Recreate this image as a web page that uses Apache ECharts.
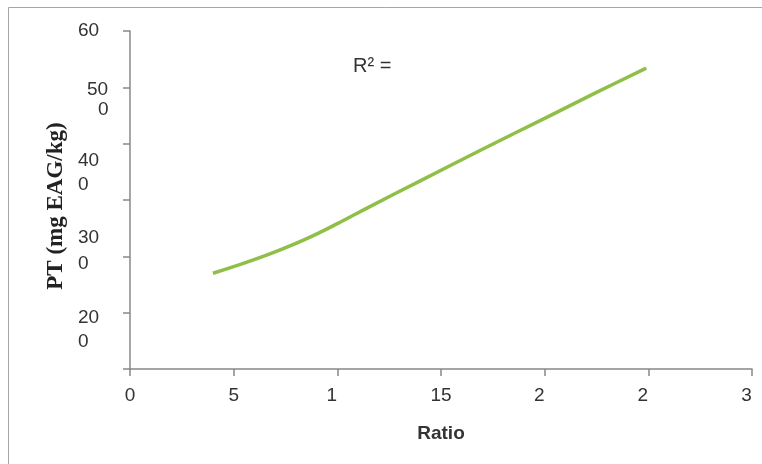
<!DOCTYPE html>
<html>
<head>
<meta charset="utf-8">
<script src="https://cdn.jsdelivr.net/npm/echarts@6/dist/echarts.min.js"></script>
<style>html,body{margin:0;padding:0;background:#fff}#c{width:762px;height:464px}</style>
</head>
<body>
<div id="c"></div>
<script>
// Data
const ratio = [0.40, 0.55, 0.70, 0.85, 1.00, 1.15, 1.40, 1.70, 2.00, 2.25, 2.49];
const pt    = [170, 188, 208, 231, 258, 287, 334, 390, 445, 491, 534];
// Tick labels as shown in the picture
const xTickValues = [0, 0.5, 1, 1.5, 2, 2.5, 3];
const xTickLabels = ['0', '5', '1', '15', '2', '2', '3'];
const yTickValues = [0, 100, 200, 300, 400, 500, 600];
const yTickLabels = ['', '20\n0', '30\n0', '40\n0', '', '50\n0', '60'];
const xTitle = 'Ratio';
const yTitle = 'PT (mg EAG/kg)';
const note = 'R\u00b2 =';

const FONT = '"Liberation Sans", Arial, sans-serif';
const chart = echarts.init(document.getElementById('c'));

function xLabel(v) {
  const i = xTickValues.findIndex(t => Math.abs(t - v) < 1e-9);
  if (i < 0) return '';
  const s = xTickLabels[i];
  return (v >= 1 && s.length === 1) ? '{s|' + s + '}' : '{n|' + s + '}';
}
function yLabel(v) {
  const i = yTickValues.findIndex(t => Math.abs(t - v) < 1e-9);
  if (i < 0) return '';
  const parts = yTickLabels[i].split('\n');
  if (parts.length === 1) return parts[0] ? '{n|' + parts[0] + '}' : '';
  if (v === 500) return '{e24| }\n{p9|' + parts[0] + '}\n{p20|' + parts[1] + '}';
  if (v === 300) return '{l24|' + parts[0] + '}\n{l24|' + parts[1] + '}\n{e54| }';
  if (v === 200) return '{l26|' + parts[0] + '}\n{l26|' + parts[1] + '}\n{e12| }';
  if (v === 100) return '{e34| }\n{l24|' + parts[0] + '}\n{l24|' + parts[1] + '}';
  return parts.join('\n');
}
const base = {fontFamily: FONT, fontSize: 19, color: '#333'};
const yRich = {
  n: Object.assign({}, base, {lineHeight: 20}),
  e24: {lineHeight: 24, fontSize: 4},
  e54: {lineHeight: 54, fontSize: 4},
  e12: {lineHeight: 12, fontSize: 4},
  e34: {lineHeight: 34, fontSize: 4},
  p9: Object.assign({}, base, {lineHeight: 20, padding: [0, 0, 0, 9]}),
  p20: Object.assign({}, base, {lineHeight: 20, padding: [0, 0, 0, 20]}),
  l24: Object.assign({}, base, {lineHeight: 24}),
  l26: Object.assign({}, base, {lineHeight: 26})
};

chart.setOption({
  animation: false,
  backgroundColor: '#fff',
  grid: {left: 130, right: 10, top: 31, bottom: 95, containLabel: false},
  xAxis: {
    type: 'value', min: 0, max: 3, interval: 0.5,
    name: xTitle, nameLocation: 'middle', nameGap: 55,
    nameTextStyle: {fontFamily: FONT, fontSize: 19, fontWeight: 'bold', color: '#333'},
    axisLine: {lineStyle: {color: '#888', width: 1.5}},
    axisTick: {show: true, length: 7, lineStyle: {color: '#888', width: 1.5}},
    splitLine: {show: false},
    axisLabel: {
      margin: 17, formatter: xLabel,
      rich: {
        n: Object.assign({}, base),
        s: Object.assign({}, base, {padding: [0, 11, 0, 0]})
      }
    }
  },
  yAxis: {
    type: 'value', min: 0, max: 600, interval: 100,
    name: yTitle, nameLocation: 'middle', nameGap: 61, nameRotate: 90,
    nameTextStyle: {fontFamily: '"Liberation Serif", "Times New Roman", serif', fontSize: 23, fontWeight: 'bold', color: '#222', padding: [0, 12, 0, 0]},
    axisLine: {show: true, lineStyle: {color: '#888', width: 1.5}},
    axisTick: {show: true, length: 7, lineStyle: {color: '#888', width: 1.5}},
    splitLine: {show: false},
    axisLabel: {align: 'left', margin: 52, formatter: yLabel, rich: yRich}
  },
  graphic: [
    {type: 'rect', left: 6, top: 5, shape: {width: 820, height: 520}, style: {fill: 'none', stroke: '#a6a6a6', lineWidth: 1}, silent: true, z: -1},
    {type: 'text', left: 353, top: 56, style: {text: note, font: '20px ' + FONT, fill: '#333'}}
  ],
  series: [{
    type: 'line',
    data: ratio.map((x, i) => [x, pt[i]]),
    smooth: 0.4,
    symbol: 'none',
    lineStyle: {color: '#8FBF47', width: 3.5}
  }]
});
</script>
</body>
</html>
